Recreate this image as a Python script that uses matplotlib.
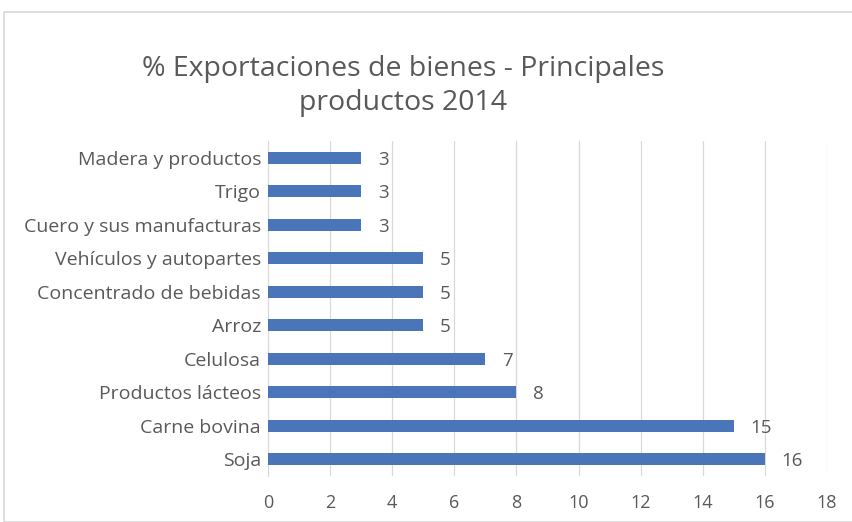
import matplotlib
matplotlib.use("Agg")
import matplotlib.pyplot as plt
from matplotlib.patches import Rectangle

categories = ["Madera y productos", "Trigo", "Cuero y sus manufacturas",
              "Vehículos y autopartes", "Concentrado de bebidas", "Arroz",
              "Celulosa", "Productos lácteos", "Carne bovina", "Soja"]
values = [3, 3, 3, 5, 5, 5, 7, 8, 15, 16]
xticks = [0, 2, 4, 6, 8, 10, 12, 14, 16, 18]
title = "% Exportaciones de bienes - Principales\nproductos 2014"

plt.rcParams['font.family'] = ['Open Sans', 'DejaVu Sans']
txt = '#595959'

fig = plt.figure(figsize=(8.53, 5.22), dpi=100)
fig.patch.set_facecolor('white')
ax = fig.add_axes([0.3142, 0.088, 0.6553, 0.642])

pos = list(range(len(categories)))
ax.barh(pos, values, height=0.36, color='#4a76b9', zorder=3)
ax.set_yticks(pos)
ax.set_yticklabels(categories, fontsize=14, color=txt)
ax.set_ylim(len(categories) - 0.5, -0.5)
ax.set_xlim(0, 18)
ax.set_xticks(xticks)
ax.set_xticklabels([str(t) for t in xticks], fontsize=13, color=txt)
ax.grid(axis='x', color='#d9d9d9', linewidth=0.9, zorder=0)
for s in ['top', 'right', 'bottom']:
    ax.spines[s].set_visible(False)
ax.spines['left'].set_color('#d9d9d9')
ax.tick_params(axis='y', length=0, pad=5)
ax.tick_params(axis='x', length=0, pad=13)

for p, v in zip(pos, values):
    ax.annotate(str(v), (v, p), xytext=(12, -1.5), textcoords='offset points',
                va='center', ha='left', fontsize=13.5, color=txt)

fig.text(0.473, 0.835, title, ha='center', va='center', fontsize=20.5,
         color=txt, linespacing=1.3)

fig.patches.append(Rectangle((4/853, 0), 1.0, 1 - 12/522, transform=fig.transFigure,
                             fill=False, edgecolor='#d9d9d9', linewidth=1.2))

fig.savefig('out.png', dpi=100)
